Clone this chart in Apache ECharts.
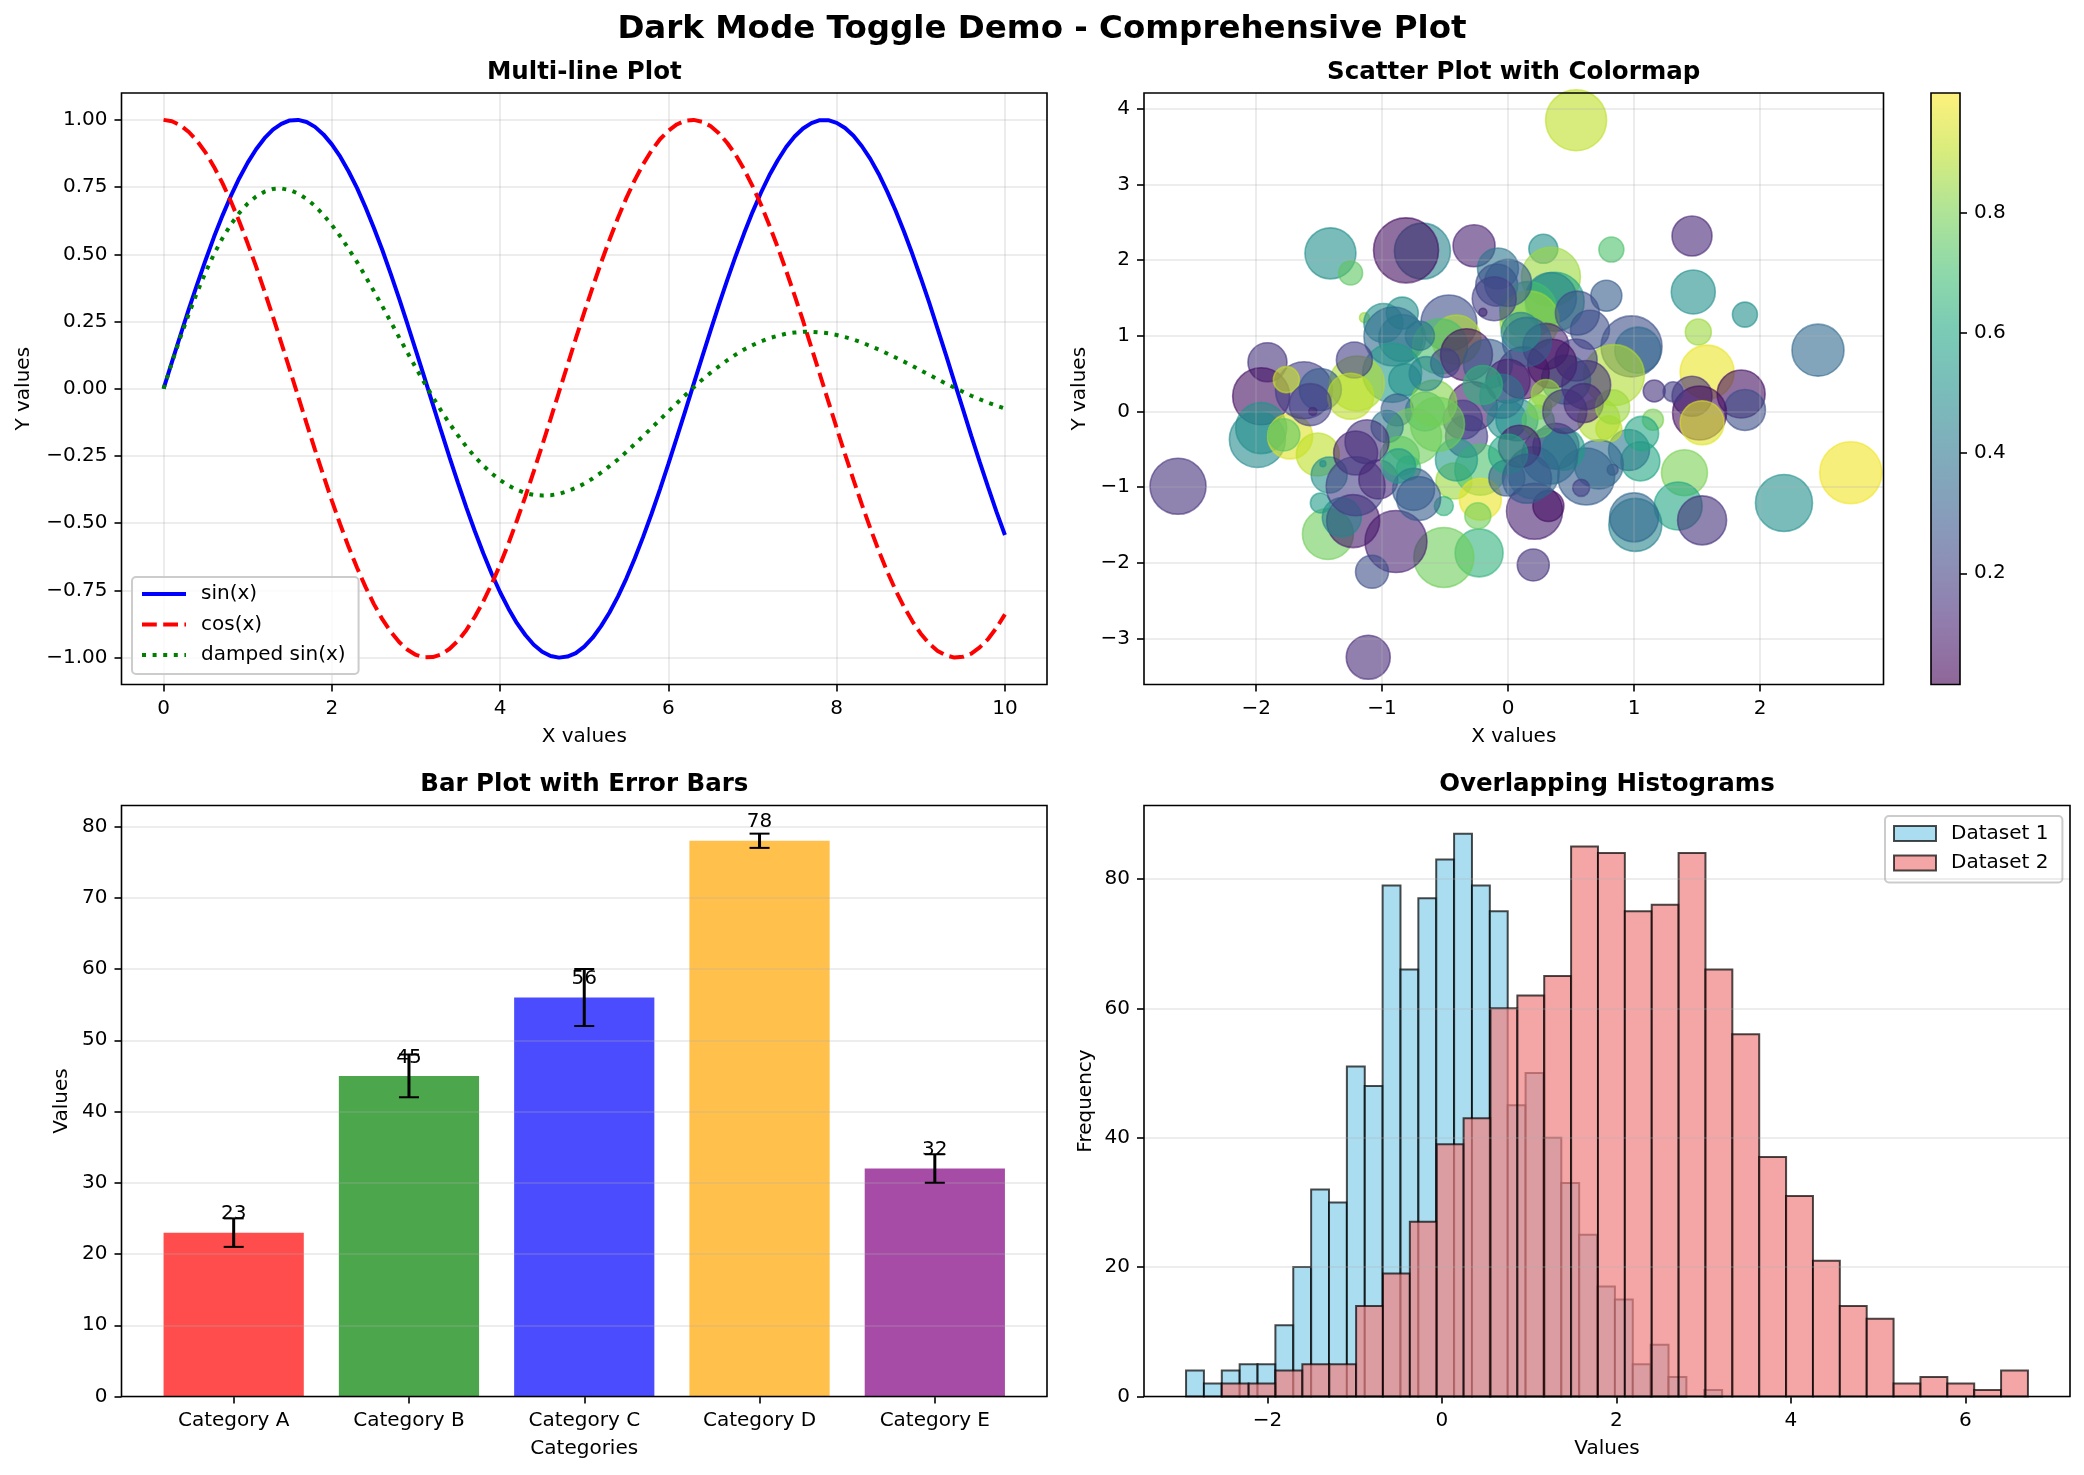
<!DOCTYPE html>
<html><head><meta charset="utf-8">
<script src="https://cdn.jsdelivr.net/npm/echarts@6/dist/echarts.min.js"></script>
<style>html,body{margin:0;padding:0;background:#fff}#chart{width:2084px;height:1475px}</style>
</head><body><div id="chart"></div>
<script>
// ---------------- data ----------------
const lineX = [0,0.1,0.2,0.3,0.4,0.5,0.6,0.7,0.8,0.9,1,1.1,1.2,1.3,1.4,1.5,1.6,1.7,1.8,1.9,2,2.1,2.2,2.3,2.4,2.5,2.6,2.7,2.8,2.9,3,3.1,3.2,3.3,3.4,3.5,3.6,3.7,3.8,3.9,4,4.1,4.2,4.3,4.4,4.5,4.6,4.7,4.8,4.9,5,5.1,5.2,5.3,5.4,5.5,5.6,5.7,5.8,5.9,6,6.1,6.2,6.3,6.4,6.5,6.6,6.7,6.8,6.9,7,7.1,7.2,7.3,7.4,7.5,7.6,7.7,7.8,7.9,8,8.1,8.2,8.3,8.4,8.5,8.6,8.7,8.8,8.9,9,9.1,9.2,9.3,9.4,9.5,9.6,9.7,9.8,9.9,10];
const sinY = [
 0,0.100,0.199,0.296,0.389,0.479,0.565,0.644,0.717,0.783,
 0.841,0.891,0.932,0.964,0.985,0.998,1.000,0.992,0.974,0.946,
 0.909,0.863,0.808,0.746,0.675,0.598,0.516,0.427,0.335,0.239,
 0.141,0.042,-0.058,-0.158,-0.256,-0.351,-0.443,-0.530,-0.612,-0.688,
 -0.757,-0.818,-0.872,-0.916,-0.952,-0.978,-0.994,-1.000,-0.996,-0.983,
 -0.959,-0.926,-0.883,-0.832,-0.773,-0.706,-0.631,-0.551,-0.465,-0.374,
 -0.279,-0.182,-0.083,0.017,0.117,0.215,0.312,0.405,0.494,0.578,
 0.657,0.729,0.794,0.850,0.899,0.938,0.968,0.988,0.999,0.999,
 0.989,0.970,0.941,0.902,0.855,0.799,0.734,0.663,0.585,0.501,
 0.412,0.320,0.223,0.125,0.025,-0.075,-0.175,-0.272,-0.366,-0.458,
 -0.544];
const cosY = [
 1.000,0.995,0.980,0.955,0.921,0.878,0.825,0.765,0.697,0.622,
 0.540,0.454,0.362,0.268,0.170,0.071,-0.029,-0.129,-0.227,-0.323,
 -0.416,-0.505,-0.589,-0.666,-0.737,-0.801,-0.857,-0.904,-0.942,-0.971,
 -0.990,-0.999,-0.998,-0.988,-0.967,-0.937,-0.897,-0.848,-0.791,-0.726,
 -0.654,-0.575,-0.490,-0.401,-0.307,-0.211,-0.112,-0.012,0.087,0.187,
 0.284,0.378,0.469,0.554,0.635,0.709,0.776,0.835,0.886,0.928,
 0.960,0.983,0.997,1.000,0.993,0.977,0.950,0.914,0.870,0.816,
 0.754,0.685,0.608,0.526,0.439,0.347,0.253,0.153,0.054,-0.046,
 -0.146,-0.244,-0.339,-0.431,-0.519,-0.602,-0.679,-0.749,-0.811,-0.865,
 -0.911,-0.948,-0.975,-0.992,-1.000,-0.997,-0.985,-0.962,-0.931,-0.889,
 -0.839];
const dampedY = [
 0,0.098,0.191,0.278,0.359,0.434,0.501,0.560,0.611,0.654,
 0.689,0.715,0.733,0.743,0.745,0.739,0.726,0.706,0.680,0.647,
 0.609,0.567,0.520,0.471,0.418,0.363,0.307,0.249,0.191,0.134,
 0.077,0.022,-0.031,-0.082,-0.130,-0.174,-0.216,-0.253,-0.286,-0.315,
 -0.340,-0.360,-0.376,-0.388,-0.395,-0.397,-0.396,-0.391,-0.381,-0.369,
 -0.353,-0.334,-0.312,-0.288,-0.263,-0.235,-0.206,-0.176,-0.146,-0.115,
 -0.084,-0.054,-0.024,0.005,0.033,0.059,0.083,0.106,0.127,0.146,
 0.162,0.176,0.188,0.197,0.205,0.209,0.212,0.212,0.210,0.206,
 0.200,0.192,0.183,0.172,0.159,0.146,0.131,0.116,0.101,0.085,
 0.068,0.052,0.035,0.019,0.004,-0.011,-0.026,-0.039,-0.052,-0.063,
 -0.074];
const lineNames = ['sin(x)','cos(x)','damped sin(x)'];
const lineXTicks = [0,2,4,6,8,10];
const lineYTicks = [-1,-0.75,-0.5,-0.25,0,0.25,0.5,0.75,1];

const scatterX = [
 0.54,-1.11,-2.62,2.72,2.46,2.19,1.88,1.46,1.47,1.51,
 1.58,1.46,1.85,1.88,1.52,1.54,1.16,1.31,1.15,1.40,
 1.35,1.54,1.01,1.00,0.20,-0.23,-0.51,-0.89,-1.08,-1.43,
 -1.23,-1.32,-1.49,-1.41,-1.25,-0.68,-0.81,-0.27,0.28,0.82,
 0.78,0.34,-1.91,-1.96,-1.96,-1.99,-1.73,-1.51,-1.62,-1.76,
 -0.08,-0.09,-0.20,-1.14,-0.84,-0.99,-0.91,-0.84,-0.47,-0.41,
 -0.54,-0.33,-0.50,-0.92,-0.82,-1.20,-1.22,-1.49,0.37,0.34,
 0.16,0.17,0.65,0.98,1.03,0.84,0.00,0.46,0.12,0.30,
 0.54,0.35,0.15,-0.16,0.00,-0.28,-0.36,-0.66,-0.88,-1.25,
 -1.55,-1.47,-1.57,-0.59,-0.33,-0.01,-0.75,-0.96,-1.42,-1.78,
 -1.21,-1.21,-1.03,-0.86,-0.79,-0.75,-0.43,-0.22,-0.41,-0.22,
 -0.01,-0.24,-0.51,-0.56,-1.12,-0.87,0.21,0.32,1.05,0.96,
 0.80,0.83,0.62,0.72,0.58,0.38,0.44,0.33,0.07,0.24,
 0.72,0.20,0.09,0.00,0.15,0.25,0.30,0.60,0.83,1.06,
 -0.71,-0.11,0.62,-0.05,0.45,-0.20,0.10,-0.65,-0.70,0.55];
const scatterY = [
 3.85,-3.25,-0.99,-0.81,0.81,-1.21,1.28,2.32,1.58,1.05,
 0.52,0.20,0.23,0.02,-0.02,-0.15,0.27,0.26,-0.11,-0.81,
 -1.25,-1.44,-1.50,-1.40,-2.03,-1.87,-1.93,-1.72,-2.12,-1.62,
 -1.45,-1.40,-1.21,2.09,1.83,2.12,2.13,2.19,2.15,2.14,
 1.53,1.78,0.65,0.20,-0.22,-0.37,-0.33,-0.57,0.28,0.42,
 1.89,1.67,1.31,1.24,1.30,1.17,0.99,0.97,1.17,0.95,
 0.86,0.75,0.64,0.51,0.42,0.37,0.68,0.29,1.45,1.50,
 1.34,1.20,1.08,0.86,0.81,0.48,1.70,0.42,0.51,0.86,
 0.68,0.63,0.92,0.63,0.40,0.07,-0.11,0.00,0.02,0.20,
 0.00,-0.69,0.09,0.11,-0.33,-0.11,-0.33,-0.20,-0.84,-0.31,
 -0.55,-0.99,-0.90,-0.59,-0.75,-1.03,-0.92,-0.77,-0.64,-1.16,
 -0.88,-1.38,-1.25,-0.17,-0.40,-0.72,-1.32,-1.25,-0.66,-0.51,
 -0.23,-0.77,-0.86,-0.70,-1.01,-0.46,-0.50,-0.59,-0.11,-0.13,
 -0.11,-0.81,-0.46,-0.56,-0.89,0.06,0.23,0.11,0.06,-0.29,
 -1.15,1.49,0.35,0.20,0.00,0.35,1.05,0.50,1.00,1.30];
const scatterSizeValues = [
 62,45,57,63,53,58,26,41,45,27,
 55,41,49,42,55,45,23,21,22,47,
 49,50,54,50,33,49,61,63,34,52,
 54,40,21,52,25,57,66,43,30,26,
 32,60,40,58,52,57,46,44,58,27,
 42,43,9,11,33,40,60,48,57,50,
 56,53,30,60,33,56,37,43,60,52,
 58,60,40,62,47,62,48,50,53,47,
 43,50,50,50,45,50,40,40,33,47,
 9,7,43,47,43,40,57,33,37,33,
 45,60,40,40,25,43,37,52,43,43,
 37,27,20,55,45,35,57,32,40,42,
 27,12,58,50,18,47,43,57,43,33,
 43,53,43,40,50,25,30,40,35,35,
 45,45,50,45,45,40,40,35,30,45];
const scatterColorValues = [
 0.90,0.13,0.15,0.98,0.35,0.50,0.50,0.12,0.50,0.85,
 0.97,0.15,0.05,0.25,0.05,0.95,0.15,0.20,0.80,0.80,
 0.60,0.15,0.45,0.35,0.15,0.65,0.78,0.10,0.25,0.78,
 0.08,0.45,0.55,0.50,0.75,0.45,0.05,0.10,0.50,0.72,
 0.30,0.85,0.15,0.05,0.52,0.48,0.95,0.90,0.20,0.92,
 0.40,0.25,0.02,0.85,0.50,0.50,0.35,0.40,0.25,0.88,
 0.72,0.05,0.20,0.55,0.50,0.88,0.20,0.30,0.60,0.45,
 0.70,0.85,0.25,0.25,0.35,0.88,0.30,0.50,0.05,0.10,
 0.20,0.05,0.30,0.30,0.10,0.08,0.20,0.60,0.30,0.90,
 0.05,0.50,0.20,0.82,0.20,0.50,0.78,0.40,0.50,0.75,
 0.10,0.20,0.12,0.75,0.70,0.30,0.85,0.72,0.55,0.97,
 0.30,0.78,0.65,0.78,0.15,0.55,0.10,0.05,0.60,0.40,
 0.90,0.15,0.30,0.35,0.20,0.20,0.55,0.35,0.50,0.75,
 0.88,0.35,0.08,0.60,0.30,0.80,0.85,0.10,0.85,0.60,
 0.30,0.20,0.15,0.40,0.15,0.65,0.45,0.45,0.40,0.25];
const colorMin = 0.015, colorMax = 0.999;
const scatterXTicks = [-2,-1,0,1,2];
const scatterYTicks = [-3,-2,-1,0,1,2,3,4];
const colorbarTicks = [0.2,0.4,0.6,0.8];

const barCategories = ['Category A','Category B','Category C','Category D','Category E'];
const barValues = [23,45,56,78,32];
const barErrors = [2,3,4,1,2];
const barYTicks = [0,10,20,30,40,50,60,70,80];

const hist1Counts = [4,2,4,5,5,11,20,32,30,51,48,79,66,77,83,87,79,75,45,50,40,33,25,17,15,5,8,3,0,1];
const hist1Start = -2.933, hist1BinWidth = 0.2048;
const hist2Counts = [2,2,4,5,5,14,19,27,39,43,60,62,65,85,84,75,76,84,66,56,37,31,21,14,12,2,3,2,1,4];
const hist2Start = -2.524, hist2BinWidth = 0.308;
const histXTicks = [-2,0,2,4,6];
const histYTicks = [0,20,40,60,80];

// ---------------- styles ----------------
const FONT = 'DejaVu Sans';
const GRID_LINE = {color:'rgba(176,176,176,0.3)', width:1.6};
const VIRIDIS = ['#440154','#482475','#414487','#355f8d','#2a788e','#21918c','#22a884','#44bf70','#7ad151','#bddf26','#fde725'];
const barColors = ['rgba(255,0,0,0.7)','rgba(0,128,0,0.7)','rgba(0,0,255,0.7)','rgba(255,165,0,0.7)','rgba(128,0,128,0.7)'];
const BAR_WIDTH = 0.8, CAP_HALF = 10;

function hexRgb(h){return [parseInt(h.slice(1,3),16),parseInt(h.slice(3,5),16),parseInt(h.slice(5,7),16)];}
function viridis(t){
  t = Math.max(0, Math.min(1, t));
  const s = t*(VIRIDIS.length-1);
  const i = Math.min(Math.floor(s), VIRIDIS.length-2);
  const f = s - i;
  const a = hexRgb(VIRIDIS[i]), b = hexRgb(VIRIDIS[i+1]);
  return 'rgb(' + a.map((v,k)=>Math.round(v+(b[k]-v)*f)).join(',') + ')';
}
function fmtNum(d){
  return v => { let s = Number(v).toFixed(d); if (Number(s) === 0) s = (0).toFixed(d); return s.replace('-', '\u2212'); };
}
function axis(o){
  return {
    type:'value', gridIndex:o.grid, min:o.min, max:o.max, position:o.position, z:o.z || 0, show:o.show !== false,
    name:o.name || '', nameLocation:'middle', nameGap:o.nameGap || 0,
    nameTextStyle:{fontSize:20, fontFamily:FONT, color:'#000'},
    axisLine:{show:false, onZero:false},
    axisTick:{show:!!o.ticks, customValues:o.ticks, length:7, inside:false, lineStyle:{color:'#000', width:1.6}},
    axisLabel:{show:!!o.ticks, customValues:o.ticks, formatter:o.fmt, margin:14, fontSize:20, fontFamily:FONT, color:'#000'},
    splitLine:{show:!!o.gridLines, lineStyle:GRID_LINE}
  };
}
const gridBase = {show:true, borderColor:'#000', borderWidth:1.6, backgroundColor:'transparent', z:10, containLabel:false, outerBoundsMode:'none'};
const grids = [
  {left:121.5, top:93, width:925.5, height:591.5},
  {left:1144, top:93, width:739.5, height:591.5},
  {left:1931, top:93, width:29, height:591.5},
  {left:121.5, top:805.5, width:925.5, height:591},
  {left:1144, top:805.5, width:926, height:591}
].map(g => Object.assign({}, gridBase, g));

function titleAt(text, x, y, size){
  return {text, left:x, top:y, textAlign:'center', textVerticalAlign:'middle', padding:0,
    textStyle:{fontSize:size, fontWeight:'bold', fontFamily:FONT, color:'#000'}};
}
function histData(start, w, counts){
  return counts.map((c,i) => [start + i*w, start + (i+1)*w, c]).filter(d => d[2] > 0);
}
function histRender(fill){
  return function(params, api){
    const p0 = api.coord([api.value(0), api.value(2)]);
    const p1 = api.coord([api.value(1), 0]);
    return {type:'rect', shape:{x:p0[0], y:p0[1], width:p1[0]-p0[0], height:p1[1]-p0[1]},
      style:{fill:fill, stroke:'rgba(0,0,0,0.7)', lineWidth:2}};
  };
}
const lineStyles = [
  {color:'#0000ff', width:4, type:'solid'},
  {color:'#ff0000', width:4, type:[14.8,6.4]},
  {color:'#008000', width:4, type:[4,6.6], cap:'butt'}
];
const lineData = [sinY, cosY, dampedY];

const option = {
  animation:false,
  backgroundColor:'#fff',
  title:[
    titleAt('Dark Mode Toggle Demo - Comprehensive Plot', 1042, 29.5, 32.5),
    titleAt('Multi-line Plot', 584.3, 72.5, 24.5),
    titleAt('Scatter Plot with Colormap', 1513.7, 72.5, 24.5),
    titleAt('Bar Plot with Error Bars', 584.3, 785, 24.5),
    titleAt('Overlapping Histograms', 1607, 785, 24.5)
  ],
  grid:grids,
  xAxis:[
    axis({grid:0, min:-0.5, max:10.5, ticks:lineXTicks, fmt:fmtNum(0), gridLines:true, name:'X values', nameGap:42}),
    axis({grid:1, min:-2.89, max:2.98, ticks:scatterXTicks, fmt:fmtNum(0), gridLines:true, z:5, name:'X values', nameGap:42}),
    axis({grid:2, min:0, max:1, show:false}),
    axis({grid:3, min:-0.64, max:4.64, ticks:[0,1,2,3,4], fmt:v => barCategories[Math.round(v)], name:'Categories', nameGap:42}),
    axis({grid:4, min:-3.415, max:7.198, ticks:histXTicks, fmt:fmtNum(0), name:'Values', nameGap:42})
  ],
  yAxis:[
    axis({grid:0, min:-1.1, max:1.1, ticks:lineYTicks, fmt:fmtNum(2), gridLines:true, name:'Y values', nameGap:88}),
    axis({grid:1, min:-3.61, max:4.21, ticks:scatterYTicks, fmt:fmtNum(0), gridLines:true, z:5, name:'Y values', nameGap:54}),
    axis({grid:2, min:colorMin, max:colorMax, ticks:colorbarTicks, fmt:fmtNum(1), position:'right'}),
    axis({grid:3, min:0, max:82.95, ticks:barYTicks, fmt:fmtNum(0), gridLines:true, z:5, name:'Values', nameGap:50}),
    axis({grid:4, min:0, max:91.35, ticks:histYTicks, fmt:fmtNum(0), gridLines:true, z:5, name:'Frequency', nameGap:48})
  ],
  legend:[
    {data:lineNames, orient:'vertical', left:132, top:577, padding:[6,13,8,8], itemWidth:44, itemHeight:14, itemGap:8.5,
     itemStyle:{opacity:0}, lineStyle:{width:4, inactiveWidth:4},
     backgroundColor:'rgba(255,255,255,0.8)', borderColor:'#cccccc', borderWidth:2, borderRadius:4, selectedMode:false,
     textStyle:{fontSize:20, fontFamily:FONT, color:'#000', lineHeight:22, padding:[0,0,0,10]}},
    {data:['Dataset 1','Dataset 2'], orient:'vertical', left:1885, top:816, padding:[6.5,14,8.5,8], itemWidth:42, itemHeight:15, itemGap:7.5,
     icon:'rect', itemStyle:{borderColor:'rgba(0,0,0,0.7)', borderWidth:2},
     backgroundColor:'rgba(255,255,255,0.8)', borderColor:'#cccccc', borderWidth:2, borderRadius:4, selectedMode:false,
     textStyle:{fontSize:20, fontFamily:FONT, color:'#000', lineHeight:22, padding:[0,0,0,10]}}
  ],
  series:[
    ...lineNames.map((n,k) => ({
      type:'line', name:n, xAxisIndex:0, yAxisIndex:0, symbol:'none', showSymbol:false, smooth:false,
      data:lineX.map((x,i) => [x, lineData[k][i]]), lineStyle:lineStyles[k], itemStyle:{color:lineStyles[k].color}, z:3
    })),
    {
      type:'scatter', name:'scatter', xAxisIndex:1, yAxisIndex:1, z:2,
      symbolSize:v => v[2] - 1,
      itemStyle:{opacity:0.6, borderWidth:1.6},
      emphasis:{disabled:true},
      data:scatterX.map((x,i) => {
        const col = viridis((scatterColorValues[i]-colorMin)/(colorMax-colorMin));
        return {value:[x, scatterY[i], scatterSizeValues[i], scatterColorValues[i]], itemStyle:{color:col, borderColor:col}};
      })
    },
    {
      type:'custom', name:'colorbar', xAxisIndex:2, yAxisIndex:2, z:2,
      data:[[colorMin, colorMax]],
      renderItem:function(params, api){
        const p0 = api.coord([0, api.value(1)]);
        const p1 = api.coord([1, api.value(0)]);
        return {type:'rect', shape:{x:p0[0], y:p0[1], width:p1[0]-p0[0], height:p1[1]-p0[1]},
          style:{fill:new echarts.graphic.LinearGradient(0,1,0,0, VIRIDIS.map((c,i)=>({offset:i/(VIRIDIS.length-1), color:c}))), opacity:0.6}};
      }
    },
    {
      type:'custom', name:'bars', xAxisIndex:3, yAxisIndex:3, z:2,
      data:barValues.map((v,i) => [i, v]),
      renderItem:function(params, api){
        const i = api.value(0), v = api.value(1);
        const p0 = api.coord([i - BAR_WIDTH/2, v]);
        const p1 = api.coord([i + BAR_WIDTH/2, 0]);
        return {type:'rect', shape:{x:p0[0], y:p0[1], width:p1[0]-p0[0], height:p1[1]-p0[1]}, style:{fill:barColors[i]}};
      }
    },
    {
      type:'custom', name:'errors', xAxisIndex:3, yAxisIndex:3, z:8,
      data:barValues.map((v,i) => [i, v, barErrors[i]]),
      renderItem:function(params, api){
        const i = api.value(0), v = api.value(1), e = api.value(2);
        const t = api.coord([i, v+e]), b = api.coord([i, v-e]), l = api.coord([i, v+0.5]);
        return {type:'group', children:[
          {type:'text', x:l[0], y:l[1]-5, style:{text:String(v), textAlign:'center', textVerticalAlign:'bottom', fontSize:20, fontFamily:FONT, fill:'#000'}},
          {type:'line', shape:{x1:t[0], y1:t[1], x2:b[0], y2:b[1]}, style:{stroke:'#000', lineWidth:3}},
          {type:'line', shape:{x1:t[0]-CAP_HALF, y1:t[1], x2:t[0]+CAP_HALF, y2:t[1]}, style:{stroke:'#000', lineWidth:2}},
          {type:'line', shape:{x1:b[0]-CAP_HALF, y1:b[1], x2:b[0]+CAP_HALF, y2:b[1]}, style:{stroke:'#000', lineWidth:2}}
        ]};
      }
    },
    {
      type:'custom', name:'Dataset 1', xAxisIndex:4, yAxisIndex:4, z:2,
      itemStyle:{color:'rgba(135,206,235,0.7)'},
      data:histData(hist1Start, hist1BinWidth, hist1Counts),
      renderItem:histRender('rgba(135,206,235,0.7)')
    },
    {
      type:'custom', name:'Dataset 2', xAxisIndex:4, yAxisIndex:4, z:2,
      itemStyle:{color:'rgba(240,128,128,0.7)'},
      data:histData(hist2Start, hist2BinWidth, hist2Counts),
      renderItem:histRender('rgba(240,128,128,0.7)')
    }
  ]
};
const chart = echarts.init(document.getElementById('chart'), null, {renderer:'canvas'});
chart.setOption(option);
</script></body></html>
